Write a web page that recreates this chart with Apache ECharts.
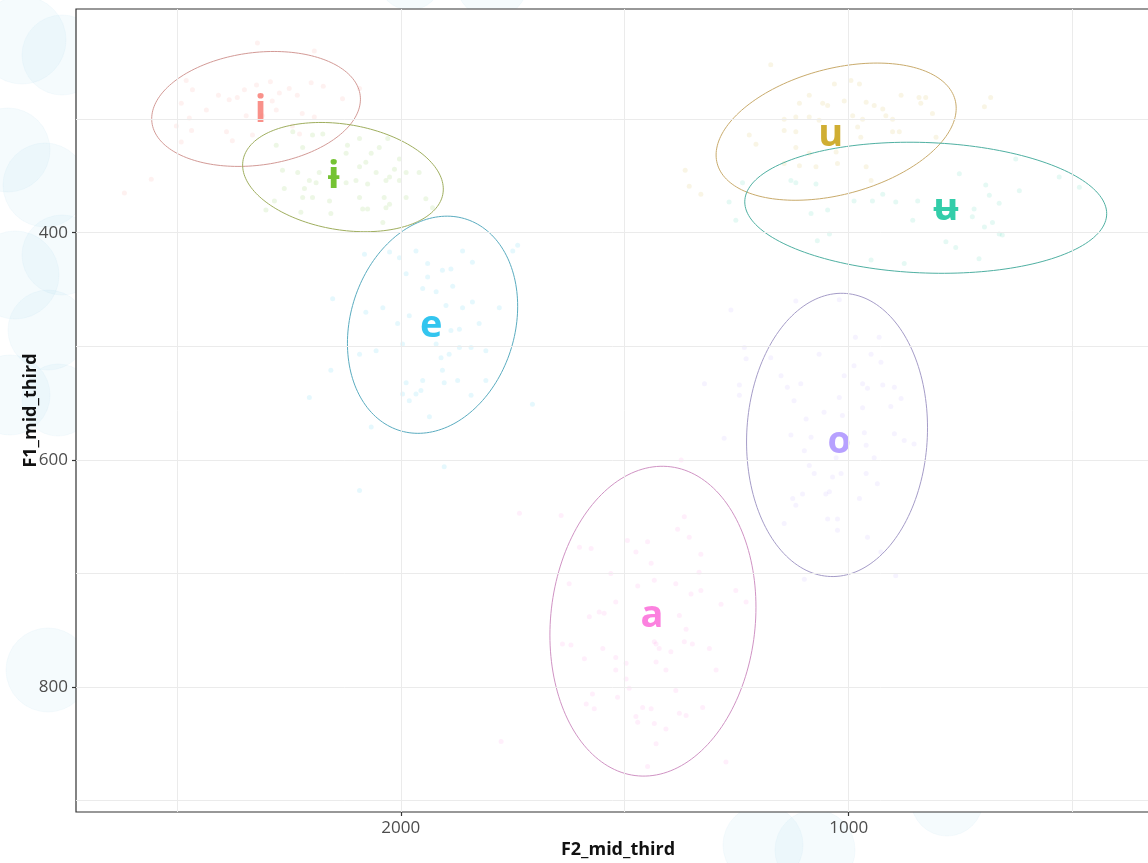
<!DOCTYPE html>
<html>
<head>
<meta charset="utf-8">
<script src="https://cdn.jsdelivr.net/npm/echarts@6/dist/echarts.min.js"></script>
<style>
  html, body { margin: 0; padding: 0; background: #fff; }
  #chart { width: 1148px; height: 863px; }
</style>
</head>
<body>
<div id="chart"></div>
<script>
// Vowel categories, in factor order, with their hue colours
const vowels = ['i', 'u', 'ɨ', 'ʉ', 'e', 'o', 'a'];
const vowelColors = ['#F8766D', '#C49A00', '#53B400', '#00C094', '#00B6EB', '#A58AFF', '#FB61D7'];
const ellipseColors = ['#d39a96', '#c9ab6c', '#9fae5e', '#4fb0a2', '#5aacc0', '#a59cc8', '#d093c4'];

// Tokens: [F2_mid_third, F1_mid_third]
const ptsI = [[2320,233],[2193,240],[2479,266],[2465,274],[2407,279],[2383,283],[2365,281],[2349,274],[2322,270],[2291,267],[2271,277],[2249,273],[2231,279],[2200,268],[2173,271],[2130,282],[2490,286],[2434,292],[2472,299],[2501,306],[2389,311],[2467,310],[2345,297],[2309,297],[2278,292],[2220,295],[2193,298],[2490,320],[2376,319],[2331,314],[2242,306],[2226,313],[2287,284],[2092,273],[2557,353],[2617,365]];
const ptsU = [[1174,252],[1032,269],[976,269],[995,266],[1088,279],[1110,286],[1058,286],[1047,288],[1010,284],[961,285],[943,288],[924,291],[883,279],[843,281],[828,281],[839,286],[813,295],[1144,300],[1118,298],[1088,298],[1066,301],[991,297],[969,300],[917,297],[902,300],[1222,314],[1207,322],[1144,310],[1118,311],[980,307],[973,316],[902,311],[887,311],[805,316],[697,289],[683,281],[1118,325],[1088,330],[1028,329],[1144,339],[1110,341],[1073,342],[1025,339],[961,342],[950,354],[1330,366],[1365,345],[1356,359]];
const ptsBarI = [[2278,323],[2241,311],[2219,325],[2197,314],[2174,313],[2119,323],[2092,317],[2066,330],[2048,325],[2029,317],[2003,335],[2264,345],[2230,347],[2204,354],[2182,347],[2122,330],[2092,342],[2078,338],[2055,347],[2025,351],[2014,344],[1988,347],[1959,347],[2260,361],[2215,361],[2189,356],[2122,356],[2100,354],[2074,357],[2033,354],[2003,354],[2282,372],[2219,369],[2197,369],[2159,372],[2092,369],[2037,369],[1988,369],[1944,370],[2301,380],[2223,382],[2156,383],[2085,379],[2074,379],[2033,378],[2025,375],[1929,378],[2040,391]];
const ptsBarU = [[1267,373],[1129,354],[1118,356],[1084,383],[1073,357],[1047,380],[1043,401],[1070,407],[988,372],[947,372],[924,366],[895,373],[846,372],[857,389],[783,408],[761,413],[753,348],[720,379],[694,358],[686,367],[664,374],[724,386],[697,395],[679,391],[664,401],[657,402],[619,363],[627,335],[530,351],[485,360],[950,424],[876,427],[709,423],[1252,389],[1237,356]];
const ptsE = [[2081,419],[2025,417],[2003,422],[1966,416],[1988,436],[1940,427],[1907,433],[1888,432],[1862,416],[1840,426],[1884,447],[1951,449],[1921,452],[1940,439],[1750,416],[1739,411],[2152,458],[2040,466],[2078,470],[1981,473],[1899,464],[1862,466],[1840,461],[1780,466],[2007,480],[1869,485],[1888,486],[1825,480],[1996,498],[2055,504],[2092,507],[1921,498],[1892,507],[1869,501],[1843,501],[1810,504],[1910,510],[2156,521],[1988,532],[1951,530],[1907,521],[1903,532],[1873,530],[1810,530],[1996,542],[1981,548],[1966,542],[1955,539],[2204,545],[2066,571],[1936,562],[1843,543],[1706,551],[1903,606],[2092,627]];
const ptsO = [[1263,468],[1118,460],[1021,459],[1233,501],[1229,511],[1174,510],[1066,507],[985,492],[932,492],[950,507],[928,514],[1151,526],[1107,533],[1137,536],[1244,534],[1244,543],[1322,533],[1122,548],[1055,558],[1021,545],[988,517],[1010,526],[969,533],[958,537],[924,534],[898,536],[883,546],[906,553],[969,554],[1095,564],[1014,561],[1278,581],[1129,578],[1084,580],[965,576],[898,577],[876,583],[854,586],[1099,592],[961,587],[943,598],[1028,598],[1088,605],[1077,612],[1036,615],[1017,612],[961,612],[936,621],[1103,630],[1051,630],[1043,628],[1125,634],[1118,640],[976,634],[1047,652],[1025,652],[1025,662],[1144,656],[958,668],[928,681],[1099,705],[895,702]];
const ptsA = [[1374,600],[1735,647],[1642,649],[1367,650],[1382,661],[1356,668],[1330,683],[1601,677],[1575,678],[1475,681],[1449,672],[1494,671],[1441,691],[1531,700],[1334,699],[1471,711],[1434,706],[1624,709],[1386,709],[1352,718],[1330,715],[1252,715],[1229,725],[1285,727],[1520,725],[1546,735],[1579,738],[1378,737],[1363,749],[1557,734],[1639,762],[1620,763],[1434,760],[1430,762],[1423,766],[1397,769],[1367,760],[1349,762],[1311,766],[1590,775],[1549,766],[1520,774],[1497,779],[1430,778],[1408,785],[1296,785],[1520,785],[1497,793],[1572,806],[1516,809],[1490,801],[1386,803],[1586,815],[1568,819],[1475,826],[1460,818],[1441,819],[1471,831],[1434,832],[1408,837],[1378,823],[1363,825],[1326,818],[1430,850],[1449,870],[1274,866],[1776,848]];
const tokensByVowel = [ptsI, ptsU, ptsBarI, ptsBarU, ptsE, ptsO, ptsA];

// Confidence ellipses per vowel: centre, spread along each formant, correlation
const ellCenterF2 = [2323, 1028, 2129, 828, 1929, 1026, 1437];
const ellCenterF1 = [291, 311, 351, 378, 481, 578, 742];
const ellSpreadF2 = [233, 268, 224, 404, 190, 202, 230];
const ellSpreadF1 = [50.6, 60.4, 48.1, 57.7, 95.6, 124.7, 136.4];
const ellRho = [0.17, 0.34, -0.22, -0.09, 0.17, 0.05, 0.09];

// Vowel label positions (means)
const labelF2 = [2313, 1040, 2150, 783, 1932, 1021, 1439];
const labelF1 = [293, 314, 351, 379, 482, 584, 738];

// Axis ticks and panel grid
const xTickValues = [2000, 1000];
const yTickValues = [400, 600, 800];
const xGridMajor = [2000, 1000];
const xGridMinor = [2500, 1500, 500];
const yGridMajor = [400, 600, 800];
const yGridMinor = [300, 500, 700, 900];
const xRange = [305, 2725];
const yRange = [203, 910];

const chart = echarts.init(document.getElementById('chart'), null, { renderer: 'canvas' });

const FONT = '"Open Sans", "Noto Sans", "DejaVu Sans", sans-serif';
const gridLineStyle = { color: '#ebebeb', width: 1, type: 'solid' };

const series = [];

// panel grid lines
series.push({
  type: 'line', data: [], z: 1, silent: true,
  markLine: {
    silent: true, symbol: ['none', 'none'], label: { show: false },
    lineStyle: gridLineStyle, animation: false,
    data: xGridMajor.concat(xGridMinor).map(v => ({ xAxis: v }))
      .concat(yGridMajor.concat(yGridMinor).map(v => ({ yAxis: v })))
  }
});

// token clouds
vowels.forEach((v, k) => {
  series.push({
    type: 'scatter', name: v, data: tokensByVowel[k], z: 2, silent: true,
    symbolSize: 5,
    itemStyle: { color: vowelColors[k], opacity: 0.1 }
  });
});

// ellipses
series.push({
  type: 'custom', z: 3, silent: true, clip: true,
  data: vowels.map((v, k) => [ellCenterF2[k], ellCenterF1[k], ellSpreadF2[k], ellSpreadF1[k], ellRho[k], k]),
  renderItem: function (params, api) {
    const cx = api.value(0), cy = api.value(1), sx = api.value(2), sy = api.value(3), r = api.value(4), k = api.value(5);
    const pts = [];
    const n = 180;
    const q = Math.sqrt(1 - r * r);
    for (let j = 0; j <= n; j++) {
      const t = (j / n) * Math.PI * 2;
      const c = Math.cos(t), s = Math.sin(t);
      pts.push(api.coord([cx + sx * c, cy + sy * (r * c + q * s)]));
    }
    return {
      type: 'polyline',
      shape: { points: pts },
      style: { stroke: ellipseColors[k], lineWidth: 1, fill: null }
    };
  }
});

// vowel labels
vowels.forEach((v, k) => {
  series.push({
    type: 'scatter', z: 4, silent: true,
    data: [[labelF2[k], labelF1[k]]],
    symbolSize: 1,
    itemStyle: { color: 'rgba(0,0,0,0)' },
    label: {
      show: true, position: 'inside', formatter: v,
      color: vowelColors[k], fontSize: 38, fontWeight: 'bold', fontFamily: FONT
    }
  });
});

// soft background circles around the panel
const bgCircles = [
  [22, 40, 44], [62, 55, 40], [8, 150, 42], [45, 185, 42], [62, 255, 40], [15, 275, 44],
  [48, 330, 40], [10, 395, 40], [58, 400, 36], [48, 670, 42],
  [763, 845, 40], [815, 850, 40], [947, 800, 36], [410, -22, 32], [492, -18, 36]
];

const option = {
  animation: false,
  backgroundColor: '#ffffff',
  graphic: bgCircles.map(c => ({
    type: 'circle', z: -10, silent: true,
    shape: { cx: c[0], cy: c[1], r: c[2] },
    style: { fill: 'rgba(160,215,240,0.10)', stroke: 'rgba(150,210,235,0.08)', lineWidth: 1 }
  })),
  grid: {
    left: 76, top: 9, right: -12, bottom: 51,
    show: true, backgroundColor: '#ffffff', borderColor: '#333333', borderWidth: 1.2,
    containLabel: false, outerBoundsMode: 'none'
  },
  xAxis: {
    type: 'value', inverse: true, min: xRange[0], max: xRange[1],
    name: 'F2_mid_third', nameLocation: 'middle', nameGap: 29, nameMoveOverlap: false,
    nameTextStyle: { fontFamily: FONT, fontWeight: 'bold', fontSize: 18, color: '#111' },
    axisLine: { show: false },
    axisTick: { show: true, customValues: xTickValues, length: 4, lineStyle: { color: '#333', width: 1.2 } },
    axisLabel: { customValues: xTickValues, formatter: v => String(v), fontFamily: FONT, fontSize: 17, color: '#4d4d4d', margin: 8 },
    splitLine: { show: false }
  },
  yAxis: {
    type: 'value', inverse: true, min: yRange[0], max: yRange[1],
    name: 'F1_mid_third', nameLocation: 'middle', nameGap: 36, nameRotate: 90, nameMoveOverlap: false,
    nameTextStyle: { fontFamily: FONT, fontWeight: 'bold', fontSize: 18, color: '#111' },
    axisLine: { show: false },
    axisTick: { show: true, customValues: yTickValues, length: 4, lineStyle: { color: '#333', width: 1.2 } },
    axisLabel: { customValues: yTickValues, formatter: v => String(v), fontFamily: FONT, fontSize: 17, color: '#4d4d4d', margin: 8 },
    splitLine: { show: false }
  },
  series: series
};

chart.setOption(option);
</script>
</body>
</html>
